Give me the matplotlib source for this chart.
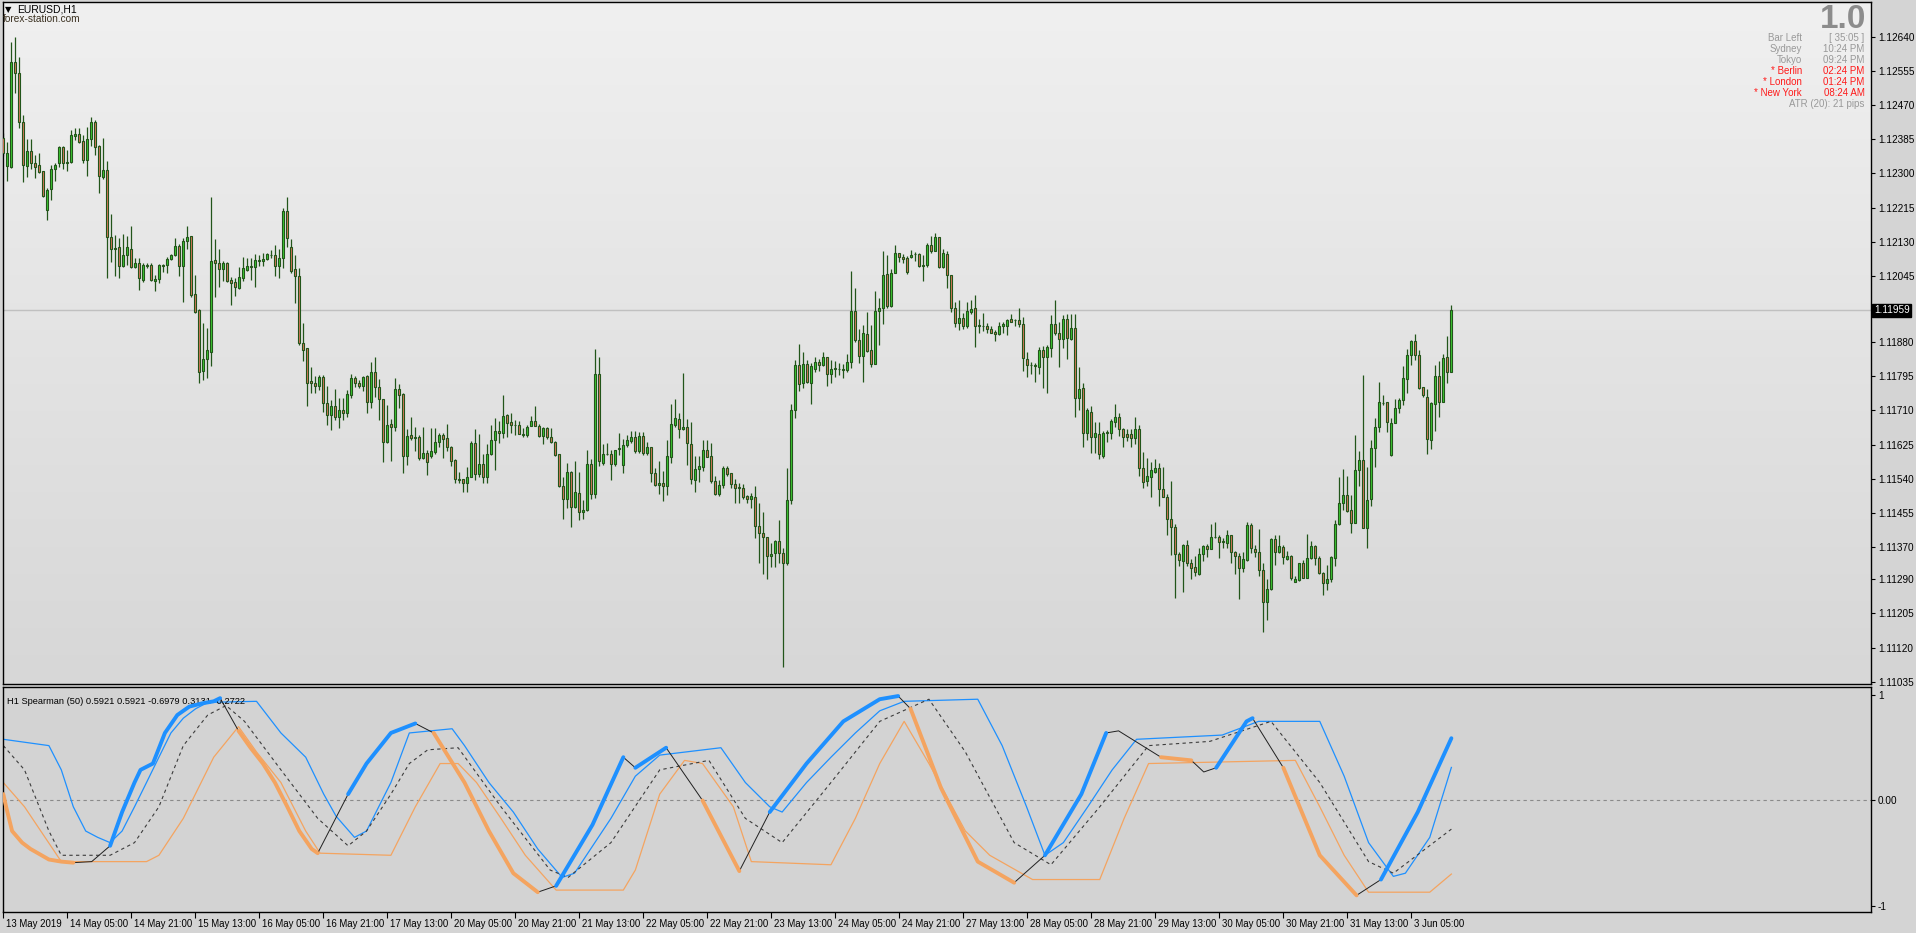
import numpy as np
import matplotlib.pyplot as plt
from matplotlib.colors import LinearSegmentedColormap
from matplotlib.transforms import ScaledTranslation, blended_transform_factory

# ---- price data (EURUSD H1, 13 May 2019 13:00 .. 3 Jun 2019) ----
open_ = [1.12387, 1.12319, 1.12317, 1.12576, 1.12549, 1.12427, 1.12319, 1.12356, 1.12327, 1.12321,
         1.12307, 1.12210, 1.12260, 1.12312, 1.12325, 1.12366, 1.12327, 1.12329, 1.12394, 1.12398,
         1.12380, 1.12332, 1.12385, 1.12428, 1.12368, 1.12292, 1.12308, 1.12141, 1.12113, 1.12116,
         1.12070, 1.12098, 1.12113, 1.12066, 1.12077, 1.12035, 1.12071, 1.12072, 1.12032, 1.12036,
         1.12071, 1.12071, 1.12086, 1.12096, 1.12119, 1.12070, 1.12131, 1.12144, 1.11999, 1.11960,
         1.11809, 1.11837, 1.11856, 1.12084, 1.12076, 1.12062, 1.12076, 1.12035, 1.12030, 1.12016,
         1.12040, 1.12060, 1.12070, 1.12066, 1.12082, 1.12081, 1.12086, 1.12097, 1.12097, 1.12070,
         1.12089, 1.12206, 1.12118, 1.12061, 1.12045, 1.11877, 1.11865, 1.11783, 1.11779, 1.11771,
         1.11793, 1.11728, 1.11699, 1.11720, 1.11695, 1.11711, 1.11703, 1.11749, 1.11790, 1.11779,
         1.11772, 1.11796, 1.11732, 1.11805, 1.11769, 1.11738, 1.11632, 1.11676, 1.11668, 1.11763,
         1.11750, 1.11596, 1.11648, 1.11642, 1.11645, 1.11591, 1.11603, 1.11598, 1.11606, 1.11631,
         1.11648, 1.11641, 1.11620, 1.11587, 1.11539, 1.11539, 1.11529, 1.11545, 1.11628, 1.11551,
         1.11576, 1.11544, 1.11601, 1.11637, 1.11659, 1.11653, 1.11698, 1.11681, 1.11674, 1.11673,
         1.11650, 1.11650, 1.11672, 1.11683, 1.11672, 1.11647, 1.11666, 1.11645, 1.11631, 1.11601,
         1.11523, 1.11489, 1.11556, 1.11471, 1.11504, 1.11457, 1.11462, 1.11576, 1.11501, 1.11801,
         1.11580, 1.11602, 1.11601, 1.11576, 1.11613, 1.11574, 1.11623, 1.11635, 1.11643, 1.11608,
         1.11646, 1.11603, 1.11618, 1.11554, 1.11524, 1.11529, 1.11522, 1.11594, 1.11675, 1.11688,
         1.11663, 1.11670, 1.11626, 1.11536, 1.11564, 1.11569, 1.11611, 1.11596, 1.11534, 1.11501,
         1.11524, 1.11566, 1.11554, 1.11526, 1.11519, 1.11516, 1.11497, 1.11489, 1.11494, 1.11423,
         1.11404, 1.11394, 1.11348, 1.11355, 1.11385, 1.11355, 1.11330, 1.11487, 1.11711, 1.11823,
         1.11778, 1.11825, 1.11778, 1.11812, 1.11830, 1.11822, 1.11843, 1.11802, 1.11812, 1.11813,
         1.11810, 1.11810, 1.11830, 1.11958, 1.11885, 1.11846, 1.11900, 1.11860, 1.11825, 1.11958,
         1.11964, 1.12050, 1.11971, 1.12053, 1.12101, 1.12093, 1.12089, 1.12091, 1.12100, 1.12099,
         1.12069, 1.12071, 1.12122, 1.12108, 1.12141, 1.12066, 1.12099, 1.12047, 1.11964, 1.11927,
         1.11939, 1.11920, 1.11956, 1.11964, 1.11920, 1.11920, 1.11920, 1.11913, 1.11906, 1.11900,
         1.11919, 1.11921, 1.11938, 1.11934, 1.11934, 1.11924, 1.11837, 1.11823, 1.11821, 1.11819,
         1.11860, 1.11842, 1.11866, 1.11924, 1.11902, 1.11887, 1.11937, 1.11888, 1.11914, 1.11740,
         1.11765, 1.11653, 1.11707, 1.11645, 1.11651, 1.11598, 1.11653, 1.11653, 1.11681, 1.11694,
         1.11663, 1.11652, 1.11652, 1.11642, 1.11663, 1.11566, 1.11535, 1.11545, 1.11558, 1.11566,
         1.11514, 1.11494, 1.11439, 1.11421, 1.11352, 1.11336, 1.11375, 1.11330, 1.11320, 1.11303,
         1.11352, 1.11373, 1.11366, 1.11396, 1.11395, 1.11383, 1.11381, 1.11400, 1.11357, 1.11349,
         1.11317, 1.11338, 1.11424, 1.11365, 1.11359, 1.11313, 1.11234, 1.11265, 1.11390, 1.11357,
         1.11370, 1.11341, 1.11348, 1.11284, 1.11288, 1.11330, 1.11294, 1.11342, 1.11374, 1.11342,
         1.11305, 1.11280, 1.11290, 1.11342, 1.11428, 1.11479, 1.11500, 1.11463, 1.11431, 1.11562,
         1.11587, 1.11417, 1.11489, 1.11616, 1.11668, 1.11729, 1.11731, 1.11599, 1.11678, 1.11715,
         1.11735, 1.11788, 1.11847, 1.11882, 1.11847, 1.11768, 1.11744, 1.11636, 1.11727, 1.11796,
         1.11730, 1.11842, 1.11807]
high = [1.12400, 1.12379, 1.12628, 1.12640, 1.12590, 1.12445, 1.12385, 1.12385, 1.12346, 1.12350,
        1.12307, 1.12263, 1.12321, 1.12325, 1.12368, 1.12368, 1.12358, 1.12408, 1.12412, 1.12414,
        1.12395, 1.12416, 1.12441, 1.12433, 1.12371, 1.12389, 1.12331, 1.12199, 1.12147, 1.12138,
        1.12148, 1.12144, 1.12169, 1.12089, 1.12089, 1.12076, 1.12076, 1.12076, 1.12047, 1.12074,
        1.12074, 1.12091, 1.12099, 1.12138, 1.12124, 1.12138, 1.12169, 1.12144, 1.12047, 1.11962,
        1.11927, 1.11914, 1.12242, 1.12136, 1.12113, 1.12083, 1.12080, 1.12043, 1.12039, 1.12066,
        1.12093, 1.12089, 1.12089, 1.12099, 1.12097, 1.12101, 1.12103, 1.12109, 1.12122, 1.12111,
        1.12213, 1.12242, 1.12136, 1.12097, 1.12064, 1.11927, 1.11865, 1.11819, 1.11796, 1.11798,
        1.11798, 1.11771, 1.11736, 1.11763, 1.11740, 1.11740, 1.11761, 1.11801, 1.11796, 1.11786,
        1.11796, 1.11798, 1.11830, 1.11842, 1.11788, 1.11738, 1.11724, 1.11689, 1.11790, 1.11776,
        1.11753, 1.11664, 1.11693, 1.11668, 1.11648, 1.11668, 1.11612, 1.11666, 1.11666, 1.11653,
        1.11653, 1.11676, 1.11622, 1.11589, 1.11558, 1.11539, 1.11570, 1.11635, 1.11664, 1.11651,
        1.11601, 1.11627, 1.11674, 1.11691, 1.11685, 1.11749, 1.11701, 1.11703, 1.11686, 1.11684,
        1.11666, 1.11674, 1.11696, 1.11721, 1.11676, 1.11668, 1.11670, 1.11667, 1.11633, 1.11601,
        1.11544, 1.11579, 1.11560, 1.11584, 1.11556, 1.11487, 1.11612, 1.11589, 1.11863, 1.11844,
        1.11627, 1.11628, 1.11612, 1.11612, 1.11653, 1.11640, 1.11648, 1.11660, 1.11660, 1.11657,
        1.11657, 1.11631, 1.11618, 1.11566, 1.11585, 1.11560, 1.11637, 1.11726, 1.11738, 1.11705,
        1.11804, 1.11688, 1.11681, 1.11597, 1.11597, 1.11637, 1.11637, 1.11628, 1.11547, 1.11537,
        1.11572, 1.11572, 1.11555, 1.11539, 1.11529, 1.11526, 1.11499, 1.11504, 1.11522, 1.11479,
        1.11457, 1.11394, 1.11380, 1.11389, 1.11438, 1.11369, 1.11568, 1.11726, 1.11836, 1.11875,
        1.11856, 1.11836, 1.11827, 1.11844, 1.11837, 1.11856, 1.11844, 1.11836, 1.11833, 1.11827,
        1.11826, 1.11850, 1.12057, 1.12014, 1.11913, 1.11923, 1.11955, 1.11923, 1.12007, 1.11989,
        1.12107, 1.12097, 1.12062, 1.12122, 1.12103, 1.12099, 1.12094, 1.12109, 1.12105, 1.12103,
        1.12097, 1.12126, 1.12144, 1.12151, 1.12142, 1.12111, 1.12107, 1.12047, 1.11981, 1.11985,
        1.11952, 1.11981, 1.11985, 1.11997, 1.11938, 1.11952, 1.11927, 1.11920, 1.11910, 1.11929,
        1.11931, 1.11938, 1.11949, 1.11938, 1.11964, 1.11942, 1.11855, 1.11831, 1.11827, 1.11868,
        1.11870, 1.11874, 1.11948, 1.11985, 1.11929, 1.11948, 1.11950, 1.11950, 1.11950, 1.11819,
        1.11778, 1.11715, 1.11721, 1.11682, 1.11682, 1.11659, 1.11661, 1.11688, 1.11726, 1.11703,
        1.11667, 1.11663, 1.11663, 1.11695, 1.11674, 1.11606, 1.11593, 1.11581, 1.11589, 1.11579,
        1.11570, 1.11502, 1.11535, 1.11427, 1.11359, 1.11378, 1.11388, 1.11340, 1.11349, 1.11367,
        1.11375, 1.11378, 1.11427, 1.11433, 1.11400, 1.11392, 1.11413, 1.11400, 1.11360, 1.11355,
        1.11357, 1.11432, 1.11431, 1.11375, 1.11415, 1.11330, 1.11291, 1.11392, 1.11400, 1.11400,
        1.11375, 1.11360, 1.11351, 1.11298, 1.11331, 1.11338, 1.11403, 1.11386, 1.11375, 1.11349,
        1.11309, 1.11326, 1.11349, 1.11438, 1.11545, 1.11565, 1.11548, 1.11500, 1.11649, 1.11609,
        1.11798, 1.11570, 1.11637, 1.11692, 1.11781, 1.11749, 1.11732, 1.11691, 1.11739, 1.11742,
        1.11821, 1.11862, 1.11885, 1.11900, 1.11861, 1.11769, 1.11764, 1.11732, 1.11823, 1.11833,
        1.11850, 1.11895, 1.11973]
low = [1.12342, 1.12282, 1.12314, 1.12499, 1.12414, 1.12279, 1.12292, 1.12312, 1.12288, 1.12302,
       1.12242, 1.12184, 1.12234, 1.12282, 1.12317, 1.12312, 1.12307, 1.12327, 1.12383, 1.12375,
       1.12325, 1.12294, 1.12368, 1.12346, 1.12252, 1.12287, 1.12039, 1.12080, 1.12045, 1.12039,
       1.12066, 1.12072, 1.12064, 1.12064, 1.12011, 1.12029, 1.12064, 1.12031, 1.12008, 1.12026,
       1.12055, 1.12053, 1.12084, 1.12094, 1.12045, 1.11981, 1.12111, 1.11992, 1.11952, 1.11779,
       1.11786, 1.11790, 1.11821, 1.11993, 1.12018, 1.12031, 1.12029, 1.11972, 1.11995, 1.12013,
       1.12033, 1.12058, 1.12035, 1.12018, 1.12070, 1.12070, 1.12084, 1.12089, 1.12045, 1.12039,
       1.12064, 1.12118, 1.12053, 1.11977, 1.11873, 1.11832, 1.11720, 1.11753, 1.11754, 1.11761,
       1.11707, 1.11674, 1.11662, 1.11686, 1.11666, 1.11686, 1.11695, 1.11740, 1.11769, 1.11765,
       1.11759, 1.11705, 1.11717, 1.11744, 1.11686, 1.11583, 1.11630, 1.11585, 1.11660, 1.11715,
       1.11554, 1.11575, 1.11637, 1.11610, 1.11588, 1.11589, 1.11550, 1.11593, 1.11601, 1.11620,
       1.11591, 1.11610, 1.11573, 1.11530, 1.11529, 1.11506, 1.11506, 1.11544, 1.11537, 1.11545,
       1.11530, 1.11530, 1.11599, 1.11562, 1.11628, 1.11641, 1.11643, 1.11655, 1.11649, 1.11651,
       1.11645, 1.11645, 1.11672, 1.11672, 1.11645, 1.11627, 1.11639, 1.11628, 1.11597, 1.11519,
       1.11441, 1.11467, 1.11419, 1.11468, 1.11438, 1.11441, 1.11460, 1.11489, 1.11493, 1.11572,
       1.11574, 1.11599, 1.11537, 1.11572, 1.11599, 1.11555, 1.11620, 1.11630, 1.11605, 1.11605,
       1.11599, 1.11599, 1.11533, 1.11523, 1.11502, 1.11486, 1.11500, 1.11580, 1.11668, 1.11642,
       1.11662, 1.11574, 1.11526, 1.11508, 1.11533, 1.11560, 1.11595, 1.11529, 1.11500, 1.11498,
       1.11516, 1.11547, 1.11516, 1.11481, 1.11479, 1.11491, 1.11481, 1.11467, 1.11392, 1.11330,
       1.11302, 1.11290, 1.11321, 1.11321, 1.11330, 1.11071, 1.11326, 1.11477, 1.11692, 1.11759,
       1.11765, 1.11778, 1.11725, 1.11807, 1.11809, 1.11821, 1.11772, 1.11779, 1.11793, 1.11798,
       1.11790, 1.11807, 1.11815, 1.11881, 1.11827, 1.11782, 1.11856, 1.11819, 1.11825, 1.11873,
       1.11924, 1.11964, 1.11967, 1.12051, 1.12080, 1.12076, 1.12050, 1.12090, 1.12082, 1.12068,
       1.12033, 1.12068, 1.12103, 1.12107, 1.12064, 1.12065, 1.12016, 1.11956, 1.11917, 1.11910,
       1.11912, 1.11914, 1.11949, 1.11869, 1.11904, 1.11908, 1.11902, 1.11902, 1.11884, 1.11898,
       1.11904, 1.11898, 1.11929, 1.11920, 1.11917, 1.11809, 1.11794, 1.11801, 1.11782, 1.11802,
       1.11767, 1.11754, 1.11842, 1.11898, 1.11817, 1.11866, 1.11837, 1.11885, 1.11695, 1.11711,
       1.11620, 1.11637, 1.11605, 1.11603, 1.11590, 1.11593, 1.11631, 1.11640, 1.11670, 1.11647,
       1.11618, 1.11635, 1.11620, 1.11626, 1.11548, 1.11518, 1.11521, 1.11496, 1.11554, 1.11473,
       1.11494, 1.11400, 1.11351, 1.11243, 1.11322, 1.11259, 1.11322, 1.11290, 1.11298, 1.11301,
       1.11336, 1.11346, 1.11365, 1.11392, 1.11342, 1.11367, 1.11367, 1.11331, 1.11302, 1.11240,
       1.11309, 1.11336, 1.11356, 1.11346, 1.11297, 1.11158, 1.11189, 1.11263, 1.11326, 1.11355,
       1.11328, 1.11338, 1.11288, 1.11283, 1.11287, 1.11293, 1.11293, 1.11340, 1.11326, 1.11302,
       1.11251, 1.11263, 1.11284, 1.11322, 1.11425, 1.11463, 1.11458, 1.11406, 1.11429, 1.11522,
       1.11417, 1.11367, 1.11473, 1.11570, 1.11657, 1.11724, 1.11657, 1.11598, 1.11678, 1.11705,
       1.11724, 1.11754, 1.11823, 1.11836, 1.11763, 1.11744, 1.11601, 1.11615, 1.11660, 1.11695,
       1.11730, 1.11779, 1.11807]
close = [1.12350, 1.12350, 1.12576, 1.12549, 1.12427, 1.12322, 1.12356, 1.12327, 1.12317, 1.12304,
         1.12244, 1.12259, 1.12312, 1.12322, 1.12366, 1.12327, 1.12328, 1.12395, 1.12397, 1.12379,
         1.12332, 1.12385, 1.12428, 1.12366, 1.12294, 1.12308, 1.12142, 1.12113, 1.12115, 1.12070,
         1.12098, 1.12116, 1.12066, 1.12077, 1.12039, 1.12072, 1.12070, 1.12034, 1.12038, 1.12071,
         1.12070, 1.12086, 1.12096, 1.12119, 1.12070, 1.12132, 1.12141, 1.11997, 1.11956, 1.11807,
         1.11837, 1.11861, 1.12082, 1.12076, 1.12062, 1.12076, 1.12033, 1.12028, 1.12018, 1.12041,
         1.12064, 1.12070, 1.12066, 1.12084, 1.12084, 1.12088, 1.12099, 1.12096, 1.12070, 1.12089,
         1.12206, 1.12138, 1.12058, 1.12045, 1.11877, 1.11861, 1.11779, 1.11778, 1.11772, 1.11793,
         1.11728, 1.11699, 1.11720, 1.11695, 1.11711, 1.11703, 1.11751, 1.11790, 1.11778, 1.11772,
         1.11793, 1.11730, 1.11805, 1.11769, 1.11739, 1.11632, 1.11673, 1.11668, 1.11763, 1.11748,
         1.11598, 1.11647, 1.11642, 1.11645, 1.11591, 1.11603, 1.11583, 1.11608, 1.11631, 1.11648,
         1.11639, 1.11620, 1.11585, 1.11539, 1.11536, 1.11529, 1.11545, 1.11628, 1.11551, 1.11576,
         1.11544, 1.11601, 1.11637, 1.11658, 1.11653, 1.11696, 1.11680, 1.11673, 1.11673, 1.11651,
         1.11652, 1.11668, 1.11683, 1.11672, 1.11647, 1.11666, 1.11643, 1.11631, 1.11599, 1.11523,
         1.11489, 1.11556, 1.11471, 1.11506, 1.11457, 1.11462, 1.11576, 1.11501, 1.11801, 1.11584,
         1.11601, 1.11601, 1.11576, 1.11611, 1.11617, 1.11623, 1.11637, 1.11643, 1.11608, 1.11646,
         1.11603, 1.11618, 1.11554, 1.11524, 1.11529, 1.11523, 1.11597, 1.11676, 1.11691, 1.11663,
         1.11668, 1.11628, 1.11539, 1.11564, 1.11571, 1.11611, 1.11595, 1.11534, 1.11501, 1.11524,
         1.11566, 1.11551, 1.11526, 1.11516, 1.11516, 1.11496, 1.11491, 1.11497, 1.11423, 1.11404,
         1.11394, 1.11348, 1.11352, 1.11385, 1.11355, 1.11330, 1.11487, 1.11711, 1.11823, 1.11776,
         1.11825, 1.11780, 1.11821, 1.11830, 1.11822, 1.11843, 1.11802, 1.11813, 1.11816, 1.11812,
         1.11813, 1.11830, 1.11958, 1.11885, 1.11846, 1.11902, 1.11858, 1.11825, 1.11958, 1.11964,
         1.12047, 1.11971, 1.12051, 1.12103, 1.12091, 1.12086, 1.12054, 1.12097, 1.12099, 1.12069,
         1.12072, 1.12122, 1.12108, 1.12141, 1.12066, 1.12101, 1.12047, 1.11964, 1.11927, 1.11939,
         1.11920, 1.11958, 1.11962, 1.11921, 1.11923, 1.11919, 1.11912, 1.11904, 1.11900, 1.11920,
         1.11926, 1.11935, 1.11931, 1.11936, 1.11924, 1.11840, 1.11822, 1.11822, 1.11823, 1.11860,
         1.11842, 1.11868, 1.11924, 1.11902, 1.11887, 1.11937, 1.11890, 1.11914, 1.11740, 1.11763,
         1.11653, 1.11711, 1.11645, 1.11653, 1.11601, 1.11653, 1.11656, 1.11684, 1.11694, 1.11663,
         1.11643, 1.11643, 1.11642, 1.11663, 1.11566, 1.11533, 1.11547, 1.11561, 1.11566, 1.11514,
         1.11496, 1.11441, 1.11419, 1.11352, 1.11338, 1.11375, 1.11330, 1.11319, 1.11307, 1.11352,
         1.11373, 1.11365, 1.11396, 1.11395, 1.11384, 1.11386, 1.11400, 1.11357, 1.11349, 1.11317,
         1.11340, 1.11424, 1.11367, 1.11357, 1.11313, 1.11233, 1.11265, 1.11390, 1.11357, 1.11373,
         1.11345, 1.11348, 1.11292, 1.11290, 1.11330, 1.11294, 1.11342, 1.11374, 1.11342, 1.11305,
         1.11280, 1.11290, 1.11345, 1.11427, 1.11479, 1.11500, 1.11461, 1.11431, 1.11562, 1.11587,
         1.11417, 1.11487, 1.11616, 1.11670, 1.11731, 1.11728, 1.11682, 1.11678, 1.11715, 1.11735,
         1.11792, 1.11847, 1.11882, 1.11847, 1.11767, 1.11748, 1.11638, 1.11728, 1.11796, 1.11732,
         1.11840, 1.11807, 1.11960]
current_price = 1.11959

price_ticks = [1.12640, 1.12555, 1.12470, 1.12385, 1.12300, 1.12215, 1.12130, 1.12045,
               1.11880, 1.11795, 1.11710, 1.11625, 1.11540, 1.11455, 1.11370, 1.11290,
               1.11205, 1.11120, 1.11035]

time_labels = ['13 May 2019', '14 May 05:00', '14 May 21:00', '15 May 13:00', '16 May 05:00',
               '16 May 21:00', '17 May 13:00', '20 May 05:00', '20 May 21:00', '21 May 13:00',
               '22 May 05:00', '22 May 21:00', '23 May 13:00', '24 May 05:00', '24 May 21:00',
               '27 May 13:00', '28 May 05:00', '28 May 21:00', '29 May 13:00', '30 May 05:00',
               '30 May 21:00', '31 May 13:00', '3 Jun 05:00']
bars_per_label = 16

# ---- Spearman (50) indicator ----
main_x = [0, 0.7, 2.2, 4.7, 6.8, 11.4, 14.5, 17.5, 22.1, 26.7, 29.7, 32.8, 34.3, 37.4, 40.4, 43.5,
          46.5, 49.6, 52.6, 54.2, 58.8, 61.8, 64.9, 67.9, 71, 74, 77.1, 78.6, 86.2, 90.8, 96.9, 103,
          107.6, 115.3, 121.4, 127.5, 133.6, 138.2, 147.3, 155, 158, 165.7, 174.8, 184, 191.6,
          200.8, 210, 219.1, 223.7, 226.8, 234.4, 243.6, 252.7, 260.4, 269.5, 275.7, 278.8, 289.4,
          297, 300.1, 303.2, 310.8, 312.3, 320, 329.1, 338.3, 344.4, 353.6, 362]
main_v = [0.06, -0.06, -0.29, -0.40, -0.46, -0.56, -0.58, -0.59, -0.58, -0.43, -0.11, 0.17, 0.29,
          0.35, 0.64, 0.81, 0.89, 0.92, 0.94, 0.97, 0.66, 0.50, 0.35, 0.17, -0.06, -0.29, -0.46,
          -0.50, 0.06, 0.35, 0.64, 0.73, 0.64, 0.17, -0.29, -0.69, -0.87, -0.81, -0.23, 0.41, 0.31,
          0.50, 0.0, -0.67, -0.11, 0.35, 0.75, 0.96, 0.99, 0.87, 0.12, -0.58, -0.78, -0.52, 0.06,
          0.64, 0.66, 0.41, 0.38, 0.27, 0.31, 0.75, 0.78, 0.31, -0.52, -0.90, -0.75, -0.11, 0.59]
blue_segs = [(26.7, 54.2), (86, 103), (138, 155), (158, 166), (191.6, 224), (260, 276), (303, 313),
             (344, 362)]
orange_segs = [(0, 22), (58.8, 78.6), (107.6, 136), (166, 184), (226, 253), (289, 300), (320, 339)]

upper_x = [0, 11.4, 14.5, 17.5, 20.6, 23.6, 26.7, 29.7, 32.8, 35.8, 38.9, 41.9, 45, 48.1, 51.1,
           63.3, 69.4, 75.6, 80.1, 83.2, 87.8, 90.8, 96.9, 101.5, 112.2, 115.3, 121.4, 127.5,
           133.6, 139.7, 142.8, 151.9, 158, 164.1, 179.4, 185.5, 191.6, 194.7, 200.8, 206.9, 213,
           219.1, 225.2, 243.6, 249.7, 255.8, 260.4, 265, 271.1, 277.2, 283.3, 304.7, 313.8,
           329.1, 335.2, 341.3, 347.5, 350.5, 356.6, 362]
upper_v = [0.58, 0.52, 0.29, -0.06, -0.29, -0.35, -0.40, -0.29, -0.06, 0.17, 0.41, 0.64, 0.78,
           0.87, 0.93, 0.94, 0.64, 0.41, 0.06, -0.15, -0.35, -0.29, 0.17, 0.64, 0.68, 0.52, 0.17,
           -0.11, -0.46, -0.73, -0.69, -0.17, 0.23, 0.43, 0.50, 0.17, -0.06, -0.11, 0.17, 0.41,
           0.64, 0.85, 0.94, 0.96, 0.52, -0.06, -0.52, -0.40, -0.06, 0.29, 0.58, 0.62, 0.75, 0.75,
           0.23, -0.40, -0.72, -0.69, -0.35, 0.3131]

lower_x = [0, 5.3, 14.5, 35.8, 38.9, 45, 52.6, 58.8, 63.3, 69.4, 75.6, 79.2, 96.9, 103, 109.2,
           113.7, 118.3, 124.4, 130.5, 138.2, 155, 158, 164.1, 170.3, 174.8, 182.5, 187, 206.9,
           213, 219.1, 225.2, 231.4, 240.5, 246.6, 257.3, 274.1, 280.2, 286.3, 323, 329.1, 335.2,
           341.3, 356.6, 362]
lower_v = [0.17, -0.06, -0.58, -0.58, -0.52, -0.17, 0.41, 0.70, 0.46, 0.17, -0.29, -0.50, -0.52,
           -0.06, 0.35, 0.35, 0.17, -0.17, -0.52, -0.85, -0.85, -0.66, 0.06, 0.38, 0.35, -0.06,
           -0.58, -0.61, -0.17, 0.35, 0.75, 0.35, -0.29, -0.52, -0.75, -0.75, -0.17, 0.35, 0.38,
           -0.06, -0.52, -0.87, -0.87, -0.6979]

mid_x = [0, 5.3, 11.4, 14.5, 26.7, 32.8, 38.9, 45, 51.1, 55.7, 60.3, 69.4, 78.6, 86.2, 90.8, 96.9,
         101.5, 106.1, 113.7, 124.4, 136.7, 141.2, 151.9, 164.1, 176.4, 185.5, 194.7, 206.9,
         219.1, 231.4, 240.5, 252.7, 261.9, 274.1, 286.3, 301.6, 316.9, 329.1, 341.3, 347.5, 362]
mid_v = [0.52, 0.29, -0.29, -0.52, -0.52, -0.40, -0.06, 0.52, 0.81, 0.90, 0.75, 0.29, -0.17, -0.43,
         -0.29, 0.06, 0.35, 0.48, 0.50, -0.06, -0.66, -0.73, -0.40, 0.29, 0.38, -0.17, -0.40, 0.17,
         0.75, 0.96, 0.46, -0.40, -0.61, -0.06, 0.52, 0.56, 0.75, 0.17, -0.58, -0.69, -0.2722]

ind_title = 'H1 Spearman (50) 0.5921 0.5921 -0.6979 0.3131 -0.2722'

# ---- layout (pixels of the 1916x933 screenshot) ----
W, H = 1916, 933
plt.rcParams['font.family'] = ['Liberation Sans', 'DejaVu Sans']

fig = plt.figure(figsize=(W / 100, H / 100), dpi=100, facecolor='#d4d4d4')


def frame(x0, y0, x1, y1):
    return [x0 / W, 1 - y1 / H, (x1 - x0) / W, (y1 - y0) / H]


ax = fig.add_axes(frame(2.7, 2.3, 1871, 684))
ax2 = fig.add_axes(frame(2.7, 687.3, 1871, 911.7), sharex=ax)

edge = '#22551a'
bull = '#3cc832'
bear = '#d9775a'

n = len(close)
xs = np.arange(n)
o = np.array(open_)
c = np.array(close)

# background gradient of the price pane
grad = LinearSegmentedColormap.from_list('bg', ['#d7d7d7', '#f0f0f0'])
ax.imshow(np.linspace(0, 1, 256).reshape(-1, 1), extent=[0, 1, 0, 1], transform=ax.transAxes,
          cmap=grad, origin='lower', aspect='auto', zorder=0)

ax.axhline(current_price, color='#c0c0c0', lw=1.0, zorder=1)
ax.vlines(xs, low, high, color=edge, lw=0.9, zorder=2)
ax.bar(xs, np.abs(c - o), bottom=np.minimum(o, c), width=0.5,
       color=np.where(c >= o, bull, bear), edgecolor=edge, linewidth=0.8, zorder=3)

ax.set_xlim(-0.15, 466.9)
ax.set_ylim(1.110295, 1.127256)
ax.yaxis.tick_right()
ax.set_yticks(price_ticks)
ax.set_yticklabels([f'{t:.5f}' for t in price_ticks])
ax.tick_params(axis='y', length=3, width=0.8, pad=2, labelsize=7.2, colors='black')
ax.tick_params(axis='x', bottom=False, labelbottom=False)

tr = blended_transform_factory(ax.transAxes, ax.transData)
ax.text(1.0015, current_price, f'{current_price:.5f}', transform=tr, ha='left', va='center',
        color='white', fontsize=7.2,
        bbox=dict(boxstyle='square,pad=0.18', fc='black', ec='black'))

# indicator pane
ax2.set_facecolor('#d3d3d3')
ax2.axhline(0, color='#8a8a8a', lw=0.8, ls=(0, (3, 3)), zorder=1)
ax2.plot(upper_x, upper_v, color='#1e90ff', lw=0.9, zorder=2)
ax2.plot(lower_x, lower_v, color='#f4a460', lw=0.9, zorder=2)
ax2.plot(mid_x, mid_v, color='#3c3c3c', lw=0.8, ls=(0, (3, 3)), zorder=2)
ax2.plot(main_x, main_v, color='#202020', lw=0.7, zorder=3)
mx = np.array(main_x)
mv = np.array(main_v)
for segs, col in ((blue_segs, '#1e90ff'), (orange_segs, '#f4a460')):
    for a, b in segs:
        m = (mx >= a - 0.01) & (mx <= b + 0.01)
        ax2.plot(mx[m], mv[m], color=col, lw=2.8, solid_capstyle='round', zorder=4)

ax2.set_ylim(-1.055, 1.073)
ax2.yaxis.tick_right()
ax2.set_yticks([1, 0, -1])
ax2.set_yticklabels(['1', '0.00', '-1'])
ax2.tick_params(axis='y', length=3, width=0.8, pad=2, labelsize=7.2)

ticks = [k * bars_per_label for k in range(len(time_labels))]
ax2.set_xticks(ticks)
ax2.set_xticklabels(time_labels, ha='left')
ax2.tick_params(axis='x', length=4, width=0.8, pad=1.5, labelsize=6.9)
shift = ScaledTranslation(2 / 72, 0, fig.dpi_scale_trans)
for lab in ax2.get_xticklabels():
    lab.set_transform(lab.get_transform() + shift)

for a in (ax, ax2):
    for s in a.spines.values():
        s.set_color('black')
        s.set_linewidth(1.0)

ax2.text(0.0025, 0.955, ind_title, transform=ax2.transAxes, ha='left', va='top', fontsize=6.7)

# header texts
fig.text(5 / W, 1 - 10 / H, '\u25bc', fontsize=6, va='center', ha='left',
         family=['DejaVu Sans'])
fig.text(17 / W, 1 - 10 / H, 'EURUSD,H1', fontsize=7.5, va='center', ha='left')
fig.text(3 / W, 1 - 19.5 / H, 'forex-station.com', fontsize=7.3, va='center', ha='left',
         color='#3a3020')

# clock / info panel (top right)
fig.text(1866 / W, 1 - 4.5 / H, '1.0', fontsize=24, fontweight='bold', color='#8c8c8c',
         ha='right', va='top')
info_left = ['Bar Left', 'Sydney', 'Tokyo', '* Berlin', '* London', '* New York']
info_right = ['[ 35:05 ]', '10:24 PM', '09:24 PM', '02:24 PM', '01:24 PM', '08:24 AM']
info_col = ['#999999', '#999999', '#999999', '#ff1a1a', '#ff1a1a', '#ff1a1a']
for k in range(len(info_left)):
    yy = 1 - (38 + 11 * k) / H
    fig.text(1802 / W, yy, info_left[k], fontsize=7, color=info_col[k], ha='right', va='center')
    fig.text(1864.5 / W, yy, info_right[k], fontsize=7, color=info_col[k], ha='right',
             va='center')
fig.text(1864.5 / W, 1 - 104 / H, 'ATR (20): 21 pips', fontsize=7, color='#999999', ha='right',
         va='center')

fig.savefig('out.png', dpi=100, facecolor=fig.get_facecolor())
